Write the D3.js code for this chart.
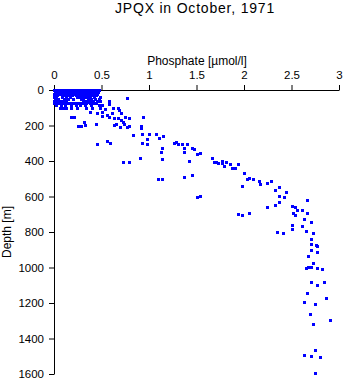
<!DOCTYPE html>
<html>
<head>
<meta charset="utf-8">
<script src="https://cdn.jsdelivr.net/npm/d3@7"></script>
<style>
  html, body { margin: 0; padding: 0; background: #fff; }
  svg { display: block; }
  text { font-family: "Liberation Sans", Arial, Helvetica, sans-serif; fill: #000; }
</style>
</head>
<body>
<svg id="chart" width="345" height="384"></svg>
<script>
// ---- Data (phosphate [umol/l] vs depth [m]) ----
const phosphate = [
  // surface cluster
  0.00,0.02,0.05,0.08,0.10,0.13,0.16,0.19,0.21,0.24,0.27,0.30,0.32,0.35,0.38,0.41,0.44,0.47,
  0.01,0.04,0.07,0.09,0.12,0.15,0.18,0.20,0.23,0.26,0.29,0.31,0.34,0.37,0.40,0.43,0.46,
  0.00,0.03,0.06,0.11,0.14,0.17,0.22,0.25,0.28,0.31,0.33,0.36,0.39,0.42,0.45,
  0.01,0.03,0.09,0.14,0.16,0.19,0.23,0.26,0.29,0.34,0.37,0.40,0.44,
  0.00,0.02,0.08,0.13,0.17,0.24,0.27,0.30,0.32,0.35,0.38,0.42,
  0.01,0.04,0.10,0.12,0.15,0.20,0.28,0.31,0.36,0.39,0.43,0.47,
  0.00,0.03,0.07,0.13,0.30,0.33,0.37,0.41,0.45,
  0.02,0.06,0.10,0.32,0.35,0.40,
  0.00,0.03,0.05,0.08,0.11,0.14,0.17,0.19,0.22,0.25,0.28,0.31,0.34,0.38,0.41,0.44,
  0.02,0.07,0.12,0.18,0.23,0.27,0.33,0.39,0.47,
  0.06,0.09,0.13,0.18,0.24,0.34,0.40,0.48,
  0.18,0.21,0.25,0.28,0.32,0.33,0.44,0.45,0.38,0.45,
  // upper thermocline
  0.48,0.48,0.58,0.58,0.51,0.54,0.50,0.50,0.56,0.61,0.62,0.67,0.68,0.70,0.67,0.63,0.58,0.70,0.73,0.75,0.79,0.77,
  0.63,0.65,0.69,0.74,0.79,0.77,0.94,0.92,0.92,0.83,0.56,0.59,0.93,1.00,1.07,1.15,0.98,1.10,0.93,0.98,1.14,1.13,
  0.91,1.14,0.73,0.79,1.26,1.28,1.31,1.35,1.40,1.37,1.45,1.47,1.09,1.14,
  // mid depths
  1.37,1.50,1.54,1.42,1.37,1.45,1.50,1.54,1.66,1.68,1.71,1.73,1.77,1.77,1.79,1.81,1.85,1.87,1.90,1.94,
  2.00,2.03,2.05,2.09,1.98,2.16,2.17,2.24,2.28,2.37,2.33,2.44,2.37,2.42,2.24,1.94,1.98,2.05,
  // deep water
  2.33,2.37,2.50,2.54,2.56,2.61,2.52,2.54,2.66,2.66,2.63,2.71,2.50,2.50,2.61,2.35,2.41,2.65,2.73,2.71,
  2.71,2.76,2.77,2.71,2.77,2.67,2.73,2.71,2.67,2.65,2.77,2.82,2.71,2.84,2.77,2.66,2.86,2.63,2.75,2.69,
  2.91,2.73,2.75,2.63,2.71,2.80,2.75
];
const depth = [
  0,0,0,0,0,0,0,0,0,0,0,0,0,0,0,0,0,0,
  10,10,10,10,10,10,10,10,10,10,10,10,10,10,10,10,10,
  20,20,20,20,20,20,20,20,20,20,20,20,20,20,20,
  30,30,30,30,30,30,30,30,30,30,30,30,30,
  40,40,40,40,40,40,40,40,40,40,40,40,
  50,50,50,50,50,50,50,50,50,50,50,50,
  60,60,60,60,60,60,60,60,60,
  70,70,70,70,70,70,
  75,75,75,75,75,75,75,75,75,75,75,75,75,75,75,75,
  85,85,85,85,85,85,85,85,85,
  100,100,100,100,100,100,100,100,
  152,152,203,203,179,198,193,304,125,130,
  38,62,62,79,85,109,126,148,141,131,103,100,111,128,156,156,154,171,182,154,159,47,
  197,190,207,193,201,210,154,203,216,255,287,297,248,248,250,257,276,269,300,306,328,351,
  385,389,404,404,300,295,306,306,304,328,325,332,503,503,
  348,362,357,400,492,481,605,599,385,406,406,413,398,413,430,407,419,441,441,419,
  469,503,497,503,543,511,531,526,514,548,565,576,596,603,661,699,706,693,
  650,631,655,661,678,678,695,706,695,620,728,745,761,783,768,800,807,794,807,841,
  866,875,881,903,914,934,976,996,999,1005,1005,1008,1082,1080,1097,1144,1172,1196,1204,1264,
  1297,1320,1467,1495,1500,1506,1596
];
const xTicks = [0, 0.5, 1, 1.5, 2, 2.5, 3];
const yTicks = [0, 200, 400, 600, 800, 1000, 1200, 1400, 1600];
const titleText = "JPQX in October, 1971";
const xLabel = "Phosphate [\u00b5mol/l]";
const yLabel = "Depth [m]";

// ---- Drawing ----
const svg = d3.select("#chart");
const x = d3.scaleLinear().domain([0, 3]).range([54, 339]);
const y = d3.scaleLinear().domain([0, 1600]).range([90, 374]);

const points = phosphate.map((p, i) => ({ p, d: depth[i] }));

svg.append("text")
  .attr("x", 195).attr("y", 13)
  .attr("text-anchor", "middle")
  .style("font-size", "14px")
  .style("letter-spacing", "0.8px")
  .text(titleText);

svg.append("text")
  .attr("x", 197).attr("y", 65)
  .attr("text-anchor", "middle")
  .style("font-size", "12px")
  .text(xLabel);

svg.append("text")
  .attr("transform", "translate(11,232) rotate(-90)")
  .attr("text-anchor", "middle")
  .style("font-size", "12px")
  .text(yLabel);

const xAxis = svg.append("g")
  .attr("transform", "translate(0,90)")
  .call(d3.axisTop(x).tickValues(xTicks).tickFormat(d3.format("")).tickSize(5).tickSizeOuter(0).tickPadding(6));
const yAxis = svg.append("g")
  .attr("transform", "translate(54,0)")
  .call(d3.axisLeft(y).tickValues(yTicks).tickFormat(d3.format("")).tickSize(5).tickSizeOuter(0).tickPadding(5));

[xAxis, yAxis].forEach(g => {
  g.selectAll("text").style("font-size", "11.5px").attr("font-family", null)
    .style("font-family", '"Liberation Sans", Arial, sans-serif');
  g.selectAll("line,path").attr("stroke", "#000");
});

svg.append("g")
  .selectAll("rect")
  .data(points)
  .join("rect")
  .attr("x", d => Math.round(x(d.p)) - 1)
  .attr("y", d => Math.round(y(d.d)) - 1)
  .attr("width", 3)
  .attr("height", 3)
  .attr("fill", "#0000ff");
</script>
</body>
</html>
